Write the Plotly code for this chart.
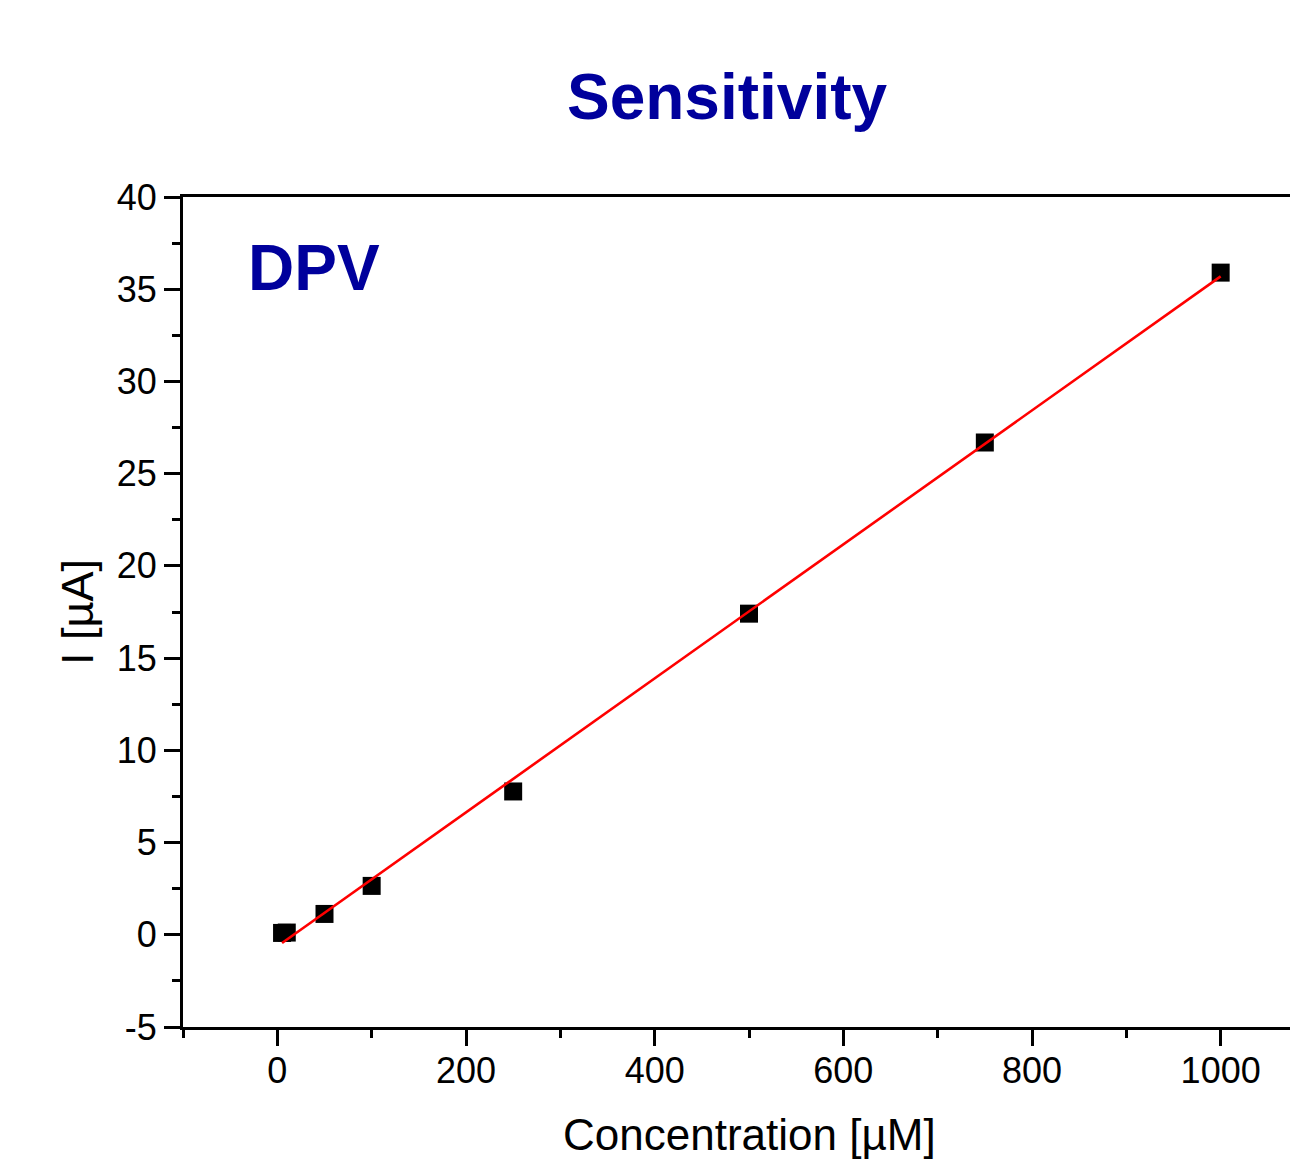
import numpy as np
import plotly.graph_objects as go

# Data
concentration_uM = [5, 10, 50, 100, 250, 500, 750, 1000]
current_uA = [0.10, 0.12, 1.13, 2.65, 7.77, 17.41, 26.69, 35.90]

x_tick_vals = [0, 200, 400, 600, 800, 1000]
y_tick_vals = [-5, 0, 5, 10, 15, 20, 25, 30, 35, 40]
y_tick_text = ["-5", "0", "5", "10", "15", "20", "25", "30", "35", "40"]

# Linear fit
slope, intercept = np.polyfit(concentration_uM, current_uA, 1)
fit_x = [min(concentration_uM), max(concentration_uM)]
fit_y = [slope * v + intercept for v in fit_x]

FONT = "Arial, Liberation Sans, Helvetica, sans-serif"
BLUE = "#00009C"

fig = go.Figure()
fig.add_trace(go.Scatter(
    x=concentration_uM, y=current_uA, mode="markers",
    marker=dict(symbol="square", size=18, color="black", line=dict(width=0)),
    showlegend=False,
))
fig.add_trace(go.Scatter(
    x=fit_x, y=fit_y, mode="lines",
    line=dict(color="#FF0000", width=2.6),
    showlegend=False,
))

axis_common = dict(
    showgrid=False, zeroline=False, showline=True, linecolor="black",
    linewidth=3, ticks="outside", ticklen=16, tickwidth=3, tickcolor="black",
    tickfont=dict(family=FONT, size=36, color="black"),
)

fig.update_xaxes(
    range=[-100, 1073.5], tickvals=x_tick_vals, mirror=True,
    ticklabelstandoff=-6,
    minor=dict(ticks="outside", ticklen=8, tickwidth=3, tickcolor="black", tick0=-100, dtick=100),
    **axis_common,
)
fig.update_yaxes(
    range=[-5, 40], tickvals=y_tick_vals, ticktext=y_tick_text,
    title=dict(text="I [µA]", font=dict(family=FONT, size=45, color="black"), standoff=10),
    minor=dict(ticks="outside", ticklen=8, tickwidth=3, tickcolor="black", tick0=-5, dtick=2.5),
    **axis_common,
)

fig.update_layout(
    width=1290, height=1163,
    margin=dict(l=183, r=0, t=197, b=136),
    paper_bgcolor="white", plot_bgcolor="white",
    title=dict(text="<b>Sensitivity</b>", x=727 / 1290, xanchor="center", xref="container",
               y=1 - 97 / 1163, yanchor="middle", yref="container",
               font=dict(family=FONT, size=64, color=BLUE)),
    annotations=[
        dict(
            text="<b>DPV</b>", xref="paper", yref="paper", x=0.057, y=0.9145,
            xanchor="left", yanchor="middle", showarrow=False,
            font=dict(family=FONT, size=64, color=BLUE),
        ),
        dict(
            text="Concentration [µM]", xref="paper", yref="paper",
            x=(749.5 - 183) / 1107, y=(1027 - 1134) / 830,
            xanchor="center", yanchor="middle", showarrow=False,
            font=dict(family=FONT, size=44, color="black"),
        ),
    ],
)

fig.write_html(
    "out.html",
    config={"displayModeBar": False},
    post_script="document.body.style.margin='0';document.body.style.overflow='hidden';",
)
